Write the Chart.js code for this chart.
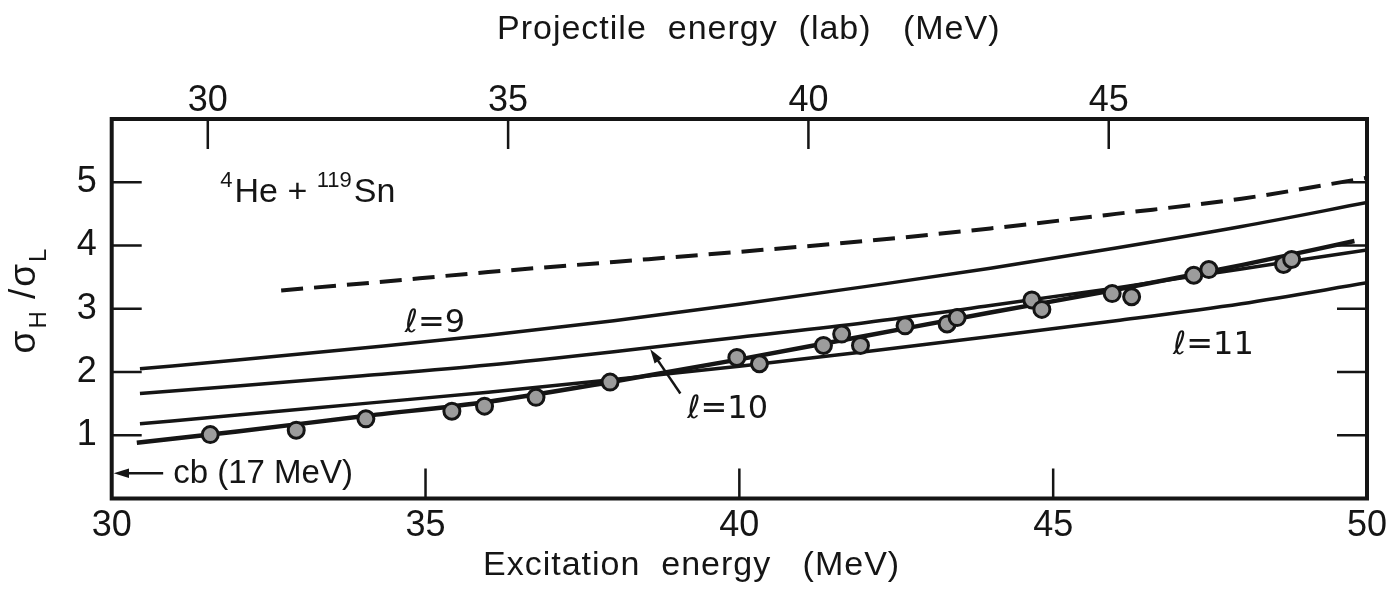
<!DOCTYPE html>
<html>
<head>
<meta charset="utf-8">
<script src="https://cdn.jsdelivr.net/npm/chart.js@4.4.1/dist/chart.umd.min.js"></script>
<style>
  html, body { margin: 0; padding: 0; background: #fff; }
  #wrap { width: 1399px; height: 599px; }
</style>
</head>
<body>
<div id="wrap"><canvas id="ratioChart"></canvas></div>
<script>
// excitation energy (MeV) where the calculated curves are sampled
const curveE = [30.45, 32, 34, 36, 38, 40, 42, 44, 46, 48, 50];
const ratioL9  = [2.05, 2.19, 2.38, 2.58, 2.81, 3.07, 3.35, 3.64, 3.96, 4.30, 4.68];
const ratioL10 = [1.66, 1.78, 1.94, 2.11, 2.32, 2.55, 2.78, 3.05, 3.33, 3.63, 3.93];
const ratioL11 = [1.18, 1.32, 1.50, 1.68, 1.88, 2.09, 2.32, 2.56, 2.81, 3.08, 3.41];

// dashed curve
const dashE = [32.7, 34, 36, 38, 40, 42, 44, 46, 48, 50];
const dashRatio = [3.29, 3.40, 3.58, 3.74, 3.90, 4.07, 4.27, 4.50, 4.74, 5.07];

// line drawn through the measured points
const fitE = [30.4, 32, 34, 36, 38, 40, 42, 44, 46, 48, 49.8];
const fitRatio = [0.88, 1.06, 1.30, 1.53, 1.85, 2.20, 2.57, 2.94, 3.30, 3.69, 4.07];

// measured sigma_H / sigma_L
const pointE = [31.57, 32.94, 34.05, 35.42, 35.94, 36.76, 37.94, 39.96, 40.32, 41.34, 41.63, 41.93,
                42.64, 43.31, 43.47, 44.66, 44.82, 45.94, 46.25, 47.24, 47.48, 48.67, 48.80];
const pointRatio = [1.01, 1.08, 1.26, 1.38, 1.46, 1.60, 1.84, 2.23, 2.13, 2.42, 2.60, 2.42,
                    2.73, 2.76, 2.86, 3.14, 2.99, 3.24, 3.19, 3.53, 3.62, 3.70, 3.78];

// axes
const excitationTicks = [30, 35, 40, 45, 50];
const projectileTicks = [30, 35, 40, 45];
const projectileRange = [28.4, 49.3];
const ratioTicks = [1, 2, 3, 4, 5];
const coulombBarrier = 0.40; // cb (17 MeV)

const toXY = (xs, ys) => xs.map((x, i) => ({ x: x, y: ys[i] }));

const ink = '#151515';
const textFont = "'Liberation Sans', Arial, sans-serif";

// frame, inward ticks, axis titles and the lettering on the plot
const decorations = {
  id: 'decorations',
  afterDraw(chart) {
    const ctx = chart.ctx;
    const a = chart.chartArea;
    const sx = chart.scales.x, sx2 = chart.scales.x2, sy = chart.scales.y;
    const px = v => sx.getPixelForValue(v);
    const py = v => sy.getPixelForValue(v);
    const tick = 30;

    ctx.save();
    ctx.strokeStyle = ink;
    ctx.fillStyle = ink;
    ctx.lineWidth = 4;
    ctx.strokeRect(a.left, a.top, a.width, a.height);

    ctx.lineWidth = 2.5;
    ctx.beginPath();
    ratioTicks.forEach(v => {
      ctx.moveTo(a.left, py(v)); ctx.lineTo(a.left + tick, py(v));
      ctx.moveTo(a.right, py(v)); ctx.lineTo(a.right - tick, py(v));
    });
    excitationTicks.forEach(v => {
      if (v <= sx.min || v >= sx.max) return;
      ctx.moveTo(px(v), a.bottom); ctx.lineTo(px(v), a.bottom - tick);
    });
    projectileTicks.forEach(v => {
      const p = sx2.getPixelForValue(v);
      ctx.moveTo(p, a.top); ctx.lineTo(p, a.top + tick);
    });
    ctx.stroke();

    // axis titles
    ctx.font = '34px ' + textFont;
    ctx.textBaseline = 'middle';
    ctx.letterSpacing = '1px';
    ctx.fillText('Excitation  energy   (MeV)', 483, 566);
    ctx.fillText('Projectile  energy  (lab)   (MeV)', 497, 30);
    ctx.letterSpacing = '0px';

    // y axis title: sigma_H / sigma_L, rotated
    ctx.save();
    ctx.translate(27, 300);
    ctx.rotate(-Math.PI / 2);
    ctx.textBaseline = 'alphabetic';
    const parts = [
      { t: '\u03C3', f: '37px ' + textFont, dy: 0 },
      { t: 'H', f: '24px ' + textFont, dy: 11 },
      { t: ' /', f: '37px ' + textFont, dy: 0 },
      { t: '\u03C3', f: '37px ' + textFont, dy: 0 },
      { t: 'L', f: '24px ' + textFont, dy: 11 }
    ];
    let w = 0;
    parts.forEach(p => { ctx.font = p.f; p.w = ctx.measureText(p.t).width; w += p.w + 2; });
    let cx = -w / 2;
    parts.forEach(p => { ctx.font = p.f; ctx.fillText(p.t, cx, 8 + p.dy); cx += p.w + 2; });
    ctx.restore();

    // reaction label  4He + 119Sn
    ctx.textBaseline = 'alphabetic';
    let lx = px(31.73);
    const ly = py(4.68);
    [['4', 22, -15], ['He + ', 34, 0], ['119', 22, -15], ['Sn', 34, 0]].forEach(s => {
      ctx.font = s[1] + 'px ' + textFont;
      ctx.fillText(s[0], lx, ly + s[2]);
      lx += ctx.measureText(s[0]).width + (s[1] === 22 ? 2 : 0);
    });

    // l labels
    ctx.font = "32px 'DejaVu Sans', sans-serif";
    ctx.fillText('\u2113=9', px(34.67), py(2.64));
    ctx.fillText('\u2113=10', px(39.17), py(1.27));
    ctx.fillText('\u2113=11', px(46.91), py(2.29));

    // arrow to the l=10 curve
    arrow(ctx, px(39.06), py(1.66), px(38.58), py(2.36), 2.5, 15);

    // coulomb barrier marker
    arrow(ctx, px(30.82), py(coulombBarrier), a.left + 2, py(coulombBarrier), 2.5, 16);
    ctx.font = '33px ' + textFont;
    ctx.textBaseline = 'middle';
    ctx.fillText('cb (17 MeV)', px(30.98), py(coulombBarrier) + 1);
    ctx.restore();
  }
};

function arrow(ctx, x0, y0, x1, y1, lw, head) {
  const ang = Math.atan2(y1 - y0, x1 - x0);
  ctx.lineWidth = lw;
  ctx.beginPath();
  ctx.moveTo(x0, y0);
  ctx.lineTo(x1 - Math.cos(ang) * head * 0.6, y1 - Math.sin(ang) * head * 0.6);
  ctx.stroke();
  ctx.beginPath();
  ctx.moveTo(x1, y1);
  ctx.lineTo(x1 - head * Math.cos(ang - 0.3), y1 - head * Math.sin(ang - 0.3));
  ctx.lineTo(x1 - head * Math.cos(ang + 0.3), y1 - head * Math.sin(ang + 0.3));
  ctx.closePath();
  ctx.fill();
}

const curveStyle = {
  showLine: true,
  pointRadius: 0,
  borderColor: ink,
  borderWidth: 3.5,
  cubicInterpolationMode: 'monotone',
  fill: false
};

Chart.defaults.color = ink;

new Chart(document.getElementById('ratioChart'), {
  type: 'scatter',
  data: {
    datasets: [
      {
        label: 'data',
        data: toXY(pointE, pointRatio),
        pointRadius: 8,
        pointBackgroundColor: '#9c9c9c',
        pointBorderColor: ink,
        pointBorderWidth: 3,
        showLine: false
      },
      Object.assign({ label: 'fit', data: toXY(fitE, fitRatio) }, curveStyle, { borderWidth: 4.5 }),
      Object.assign({ label: 'l=9', data: toXY(curveE, ratioL9) }, curveStyle),
      Object.assign({ label: 'l=10', data: toXY(curveE, ratioL10) }, curveStyle),
      Object.assign({ label: 'l=11', data: toXY(curveE, ratioL11) }, curveStyle),
      Object.assign({ label: 'dashed', data: toXY(dashE, dashRatio) }, curveStyle,
                    { borderWidth: 4, borderDash: [22, 11] })
    ]
  },
  options: {
    responsive: true,
    maintainAspectRatio: false,
    animation: false,
    layout: { padding: { left: 0, right: 32, top: 0, bottom: 0 } },
    plugins: {
      legend: { display: false },
      tooltip: { enabled: false }
    },
    scales: {
      x: {
        type: 'linear',
        position: 'bottom',
        min: 30,
        max: 50,
        afterBuildTicks: s => { s.ticks = excitationTicks.map(v => ({ value: v })); },
        afterFit: s => { s.height = 100.5; },
        grid: { display: false, drawTicks: false },
        border: { display: false },
        ticks: {
          autoSkip: false,
          maxRotation: 0,
          padding: 6,
          font: { family: textFont, size: 36 }
        }
      },
      x2: {
        type: 'linear',
        position: 'top',
        min: projectileRange[0],
        max: projectileRange[1],
        afterBuildTicks: s => { s.ticks = projectileTicks.map(v => ({ value: v })); },
        afterFit: s => { s.height = 119; },
        grid: { display: false, drawTicks: false },
        border: { display: false },
        ticks: {
          autoSkip: false,
          maxRotation: 0,
          padding: -4,
          font: { family: textFont, size: 36 }
        }
      },
      y: {
        type: 'linear',
        position: 'left',
        min: 0,
        max: 6,
        afterBuildTicks: s => { s.ticks = ratioTicks.map(v => ({ value: v })); },
        afterFit: s => { s.width = 111.7; },
        grid: { display: false, drawTicks: false },
        border: { display: false },
        ticks: {
          padding: 15,
          font: { family: textFont, size: 36 }
        }
      }
    }
  },
  plugins: [decorations]
});
</script>
</body>
</html>
